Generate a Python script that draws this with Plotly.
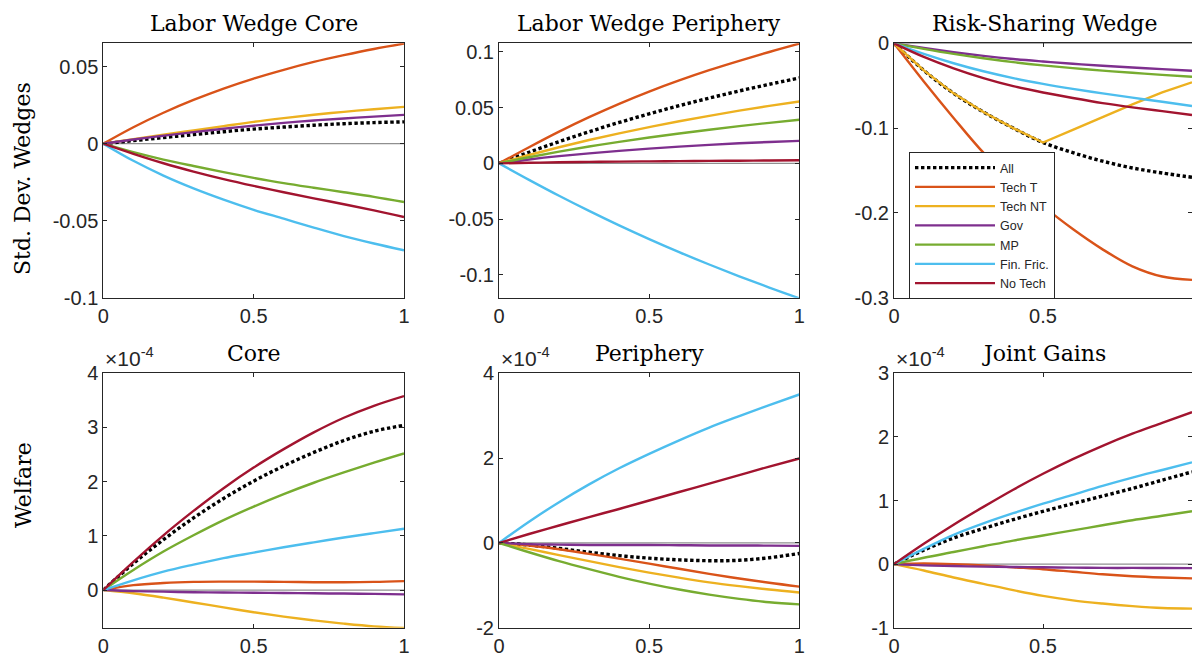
import plotly.graph_objects as go

W, H = 1192, 659

# ---------------- data ----------------
x = [0.0, 0.1, 0.2, 0.3, 0.4, 0.5, 0.6, 0.7, 0.8, 0.9, 1.0]

series = ["All", "Tech T", "Tech NT", "Gov", "MP", "Fin. Fric.", "No Tech"]
colors = ["#000000", "#D95319", "#EDB120", "#7E2F8E", "#77AC30", "#4DBEEE", "#A2142F"]

# Panel 1: Labor Wedge Core (std. dev. wedges)
lwc_all   = [0, 0.0020, 0.0040, 0.0059, 0.0078, 0.0095, 0.0108, 0.0120, 0.0130, 0.0137, 0.0142]
lwc_techT = [0, 0.0107, 0.0201, 0.0284, 0.0358, 0.0423, 0.0480, 0.0531, 0.0575, 0.0615, 0.0650]
lwc_techN = [0, 0.0030, 0.0059, 0.0086, 0.0114, 0.0142, 0.0166, 0.0188, 0.0207, 0.0224, 0.0239]
lwc_gov   = [0, 0.0027, 0.0052, 0.0075, 0.0097, 0.0117, 0.0135, 0.0151, 0.0164, 0.0176, 0.0187]
lwc_mp    = [0, -0.0055, -0.0103, -0.0145, -0.0185, -0.0222, -0.0256, -0.0286, -0.0315, -0.0345, -0.0379]
lwc_fin   = [0, -0.0111, -0.0207, -0.0290, -0.0363, -0.0429, -0.0487, -0.0545, -0.0600, -0.0648, -0.0692]
lwc_notec = [0, -0.0066, -0.0127, -0.0181, -0.0230, -0.0274, -0.0315, -0.0355, -0.0393, -0.0433, -0.0476]

# Panel 2: Labor Wedge Periphery
lwp_all   = [0, 0.0100, 0.0195, 0.0284, 0.0367, 0.0445, 0.0518, 0.0586, 0.0650, 0.0710, 0.0767]
lwp_techT = [0, 0.0145, 0.0285, 0.0415, 0.0535, 0.0645, 0.0745, 0.0837, 0.0921, 0.1000, 0.1075]
lwp_techN = [0, 0.0075, 0.0145, 0.0210, 0.0270, 0.0326, 0.0378, 0.0427, 0.0473, 0.0516, 0.0556]
lwp_gov   = [0, 0.0035, 0.0065, 0.0090, 0.0112, 0.0132, 0.0150, 0.0166, 0.0180, 0.0192, 0.0202]
lwp_mp    = [0, 0.0055, 0.0105, 0.0151, 0.0193, 0.0232, 0.0268, 0.0302, 0.0334, 0.0364, 0.0392]
lwp_fin   = [0, -0.0148, -0.0291, -0.0427, -0.0557, -0.0680, -0.0797, -0.0908, -0.1014, -0.1115, -0.1211]
lwp_notec = [0, 0.0005, 0.0010, 0.0013, 0.0016, 0.0018, 0.0020, 0.0022, 0.0024, 0.0026, 0.0028]

# Panel 3: Risk-Sharing Wedge
rs_all   = [0, -0.032, -0.059, -0.081, -0.100, -0.117, -0.129, -0.139, -0.147, -0.153, -0.158]
rs_techT = [0, -0.045, -0.088, -0.129, -0.163, -0.192, -0.219, -0.243, -0.263, -0.275, -0.279]
rs_techN = [0, -0.032, -0.059, -0.081, -0.100, -0.117, -0.102, -0.087, -0.072, -0.058, -0.046]
rs_gov   = [0, -0.0055, -0.0105, -0.0148, -0.0185, -0.0215, -0.0242, -0.0265, -0.0286, -0.0305, -0.0323]
rs_mp    = [0, -0.0065, -0.0125, -0.0177, -0.0222, -0.0260, -0.0293, -0.0322, -0.0348, -0.0372, -0.0394]
rs_fin   = [0, -0.0125, -0.0235, -0.0330, -0.0410, -0.0478, -0.0537, -0.0590, -0.0640, -0.0690, -0.0740]
rs_notec = [0, -0.0160, -0.0295, -0.0410, -0.0505, -0.0580, -0.0645, -0.0705, -0.0755, -0.0800, -0.0846]

# Panel 4: Welfare Core (x 1e-4)
wc_all   = [0, 0.49, 0.93, 1.33, 1.69, 2.01, 2.29, 2.54, 2.76, 2.93, 3.04]
wc_techT = [0, 0.09, 0.13, 0.15, 0.155, 0.155, 0.15, 0.145, 0.145, 0.15, 0.165]
wc_techN = [0, -0.06, -0.14, -0.23, -0.32, -0.41, -0.49, -0.56, -0.62, -0.67, -0.70]
wc_gov   = [0, -0.02, -0.03, -0.04, -0.045, -0.05, -0.055, -0.06, -0.065, -0.07, -0.08]
wc_mp    = [0, 0.37, 0.71, 1.01, 1.29, 1.54, 1.77, 1.98, 2.17, 2.35, 2.52]
wc_fin   = [0, 0.18, 0.34, 0.47, 0.59, 0.69, 0.79, 0.88, 0.97, 1.05, 1.13]
wc_notec = [0, 0.52, 1.01, 1.46, 1.88, 2.26, 2.60, 2.91, 3.18, 3.40, 3.58]

# Panel 5: Welfare Periphery (x 1e-4)
wp_all   = [0, -0.05, -0.13, -0.22, -0.30, -0.36, -0.40, -0.42, -0.41, -0.35, -0.25]
wp_techT = [0, -0.06, -0.15, -0.26, -0.37, -0.49, -0.61, -0.73, -0.84, -0.94, -1.03]
wp_techN = [0, -0.14, -0.29, -0.43, -0.57, -0.70, -0.82, -0.93, -1.02, -1.10, -1.17]
wp_gov   = [0, -0.03, -0.04, -0.05, -0.05, -0.05, -0.055, -0.06, -0.06, -0.065, -0.07]
wp_mp    = [0, -0.22, -0.43, -0.62, -0.80, -0.96, -1.10, -1.22, -1.32, -1.40, -1.45]
wp_fin   = [0, 0.50, 0.96, 1.38, 1.76, 2.10, 2.42, 2.72, 2.99, 3.25, 3.50]
wp_notec = [0, 0.21, 0.41, 0.61, 0.80, 1.00, 1.20, 1.40, 1.60, 1.80, 1.99]

# Panel 6: Joint Gains (x 1e-4)
jg_all   = [0, 0.22, 0.41, 0.56, 0.70, 0.83, 0.95, 1.07, 1.19, 1.32, 1.45]
jg_techT = [0, 0.01, 0.0, -0.02, -0.05, -0.08, -0.12, -0.16, -0.19, -0.21, -0.225]
jg_techN = [0, -0.10, -0.21, -0.31, -0.41, -0.50, -0.57, -0.62, -0.66, -0.69, -0.70]
jg_gov   = [0, -0.02, -0.03, -0.04, -0.045, -0.05, -0.055, -0.06, -0.06, -0.062, -0.063]
jg_mp    = [0, 0.10, 0.19, 0.28, 0.37, 0.45, 0.53, 0.61, 0.69, 0.76, 0.83]
jg_fin   = [0, 0.24, 0.46, 0.64, 0.80, 0.95, 1.09, 1.23, 1.36, 1.48, 1.60]
jg_notec = [0, 0.32, 0.62, 0.90, 1.17, 1.42, 1.65, 1.86, 2.05, 2.22, 2.39]

titles = ["Labor Wedge Core", "Labor Wedge Periphery", "Risk-Sharing Wedge",
          "Core", "Periphery", "Joint Gains"]
row_labels = ["Std. Dev. Wedges", "Welfare"]

x_tickvals = [0, 0.5, 1]
x_ticktext = ["0", "0.5", "1"]

y_ranges = [[-0.1, 0.0652], [-0.1206, 0.1078], [-0.3, 0.0],
            [-0.695, 4.0], [-2.0, 4.0], [-1.0, 3.0]]
y_tickvals = [[-0.1, -0.05, 0, 0.05], [-0.1, -0.05, 0, 0.05, 0.1], [-0.3, -0.2, -0.1, 0],
              [0, 1, 2, 3, 4], [-2, 0, 2, 4], [-1, 0, 1, 2, 3]]
y_ticktext = [["-0.1", "-0.05", "0", "0.05"], ["-0.1", "-0.05", "0", "0.05", "0.1"],
              ["-0.3", "-0.2", "-0.1", "0"], ["0", "1", "2", "3", "4"],
              ["-2", "0", "2", "4"], ["-1", "0", "1", "2", "3"]]
exponent_label = "×10<sup>-4</sup>"

panels = [
    [lwc_all, lwc_techT, lwc_techN, lwc_gov, lwc_mp, lwc_fin, lwc_notec],
    [lwp_all, lwp_techT, lwp_techN, lwp_gov, lwp_mp, lwp_fin, lwp_notec],
    [rs_all, rs_techT, rs_techN, rs_gov, rs_mp, rs_fin, rs_notec],
    [wc_all, wc_techT, wc_techN, wc_gov, wc_mp, wc_fin, wc_notec],
    [wp_all, wp_techT, wp_techN, wp_gov, wp_mp, wp_fin, wp_notec],
    [jg_all, jg_techT, jg_techN, jg_gov, jg_mp, jg_fin, jg_notec],
]

# ---------------- layout geometry (pixels) ----------------
col_px = [(103.3, 404.0), (499.0, 799.3), (894.0, 1192.0)]
row_px = [(43.3, 297.7), (373.3, 627.7)]
row_label_centers = [179.0, 485.0]

def px_x(p):
    return p / W

def px_y(p):
    return 1 - p / H

AX = "#262626"
SERIF = "DejaVu Serif, serif"
SANS = "Liberation Sans, Arial, sans-serif"

fig = go.Figure()
layout = dict(
    width=W, height=H, margin=dict(l=0, r=0, t=0, b=0, pad=0, autoexpand=False),
    paper_bgcolor="white", plot_bgcolor="white",
    showlegend=True,
    legend=dict(
        x=px_x(909), y=px_y(152), xanchor="left", yanchor="top",
        bgcolor="white", bordercolor=AX, borderwidth=1,
        font=dict(family=SANS, size=12.5, color="#262626"),
        itemwidth=80, tracegroupgap=0,
    ),
)
annotations = []

for i in range(6):
    r, c = divmod(i, 3)
    xa = "x" if i == 0 else f"x{i+1}"
    ya = "y" if i == 0 else f"y{i+1}"
    xkey = "xaxis" if i == 0 else f"xaxis{i+1}"
    ykey = "yaxis" if i == 0 else f"yaxis{i+1}"
    x0, x1 = col_px[c]
    y0, y1 = row_px[r]
    common = dict(showline=True, linecolor=AX, linewidth=1, mirror="ticks",
                  ticks="inside", ticklen=4, tickcolor=AX, tickwidth=1,
                  showgrid=False, zeroline=False, automargin=False,
                  tickfont=dict(family=SANS, size=20, color="#262626"))
    layout[xkey] = dict(domain=[px_x(x0), px_x(x1)], anchor=ya, range=[0, 1],
                        tickvals=x_tickvals, ticktext=x_ticktext, **common)
    layout[ykey] = dict(domain=[px_y(y1), px_y(y0)], anchor=xa, range=y_ranges[i],
                        tickvals=y_tickvals[i], ticktext=y_ticktext[i], **common)

    # zero reference line
    fig.add_trace(go.Scatter(x=[x[0], x[-1]], y=[0, 0], mode="lines",
                             line=dict(color="#8f8f8f", width=1.3),
                             xaxis=xa, yaxis=ya, showlegend=False, hoverinfo="skip"))
    for k, (name, col) in enumerate(zip(series, colors)):
        if k == 0:
            line = dict(color=col, width=3.4, dash="3.4px,2.6px")
        else:
            line = dict(color=col, width=2.4)
        shape = "linear" if (i == 2 and k == 2) else "spline"
        fig.add_trace(go.Scatter(x=x, y=panels[i][k], mode="lines", name=name,
                                 line=line, line_shape=shape,
                                 xaxis=xa, yaxis=ya, showlegend=(i == 2),
                                 legendgroup=name))

    # title
    annotations.append(dict(text=titles[i], xref="paper", yref="paper",
                            x=px_x((x0 + x1) / 2) if c < 2 else px_x((x0 + x0 + 300.7) / 2),
                            y=px_y(y0), xanchor="center", yanchor="bottom", yshift=5,
                            showarrow=False, font=dict(family=SERIF, size=22, color="black")))
    if r == 1:
        annotations.append(dict(text=exponent_label, xref="paper", yref="paper",
                                x=px_x(x0), y=px_y(y0), xanchor="left", yanchor="bottom",
                                yshift=1, showarrow=False,
                                font=dict(family=SANS, size=21, color="#262626")))

for r, lab in enumerate(row_labels):
    annotations.append(dict(text=lab, xref="paper", yref="paper", x=px_x(23),
                            y=px_y(row_label_centers[r]), xanchor="center", yanchor="middle",
                            textangle=-90, showarrow=False,
                            font=dict(family=SERIF, size=22, color="black")))

layout["annotations"] = annotations
fig.update_layout(**layout)
fig.write_html("out.html")
